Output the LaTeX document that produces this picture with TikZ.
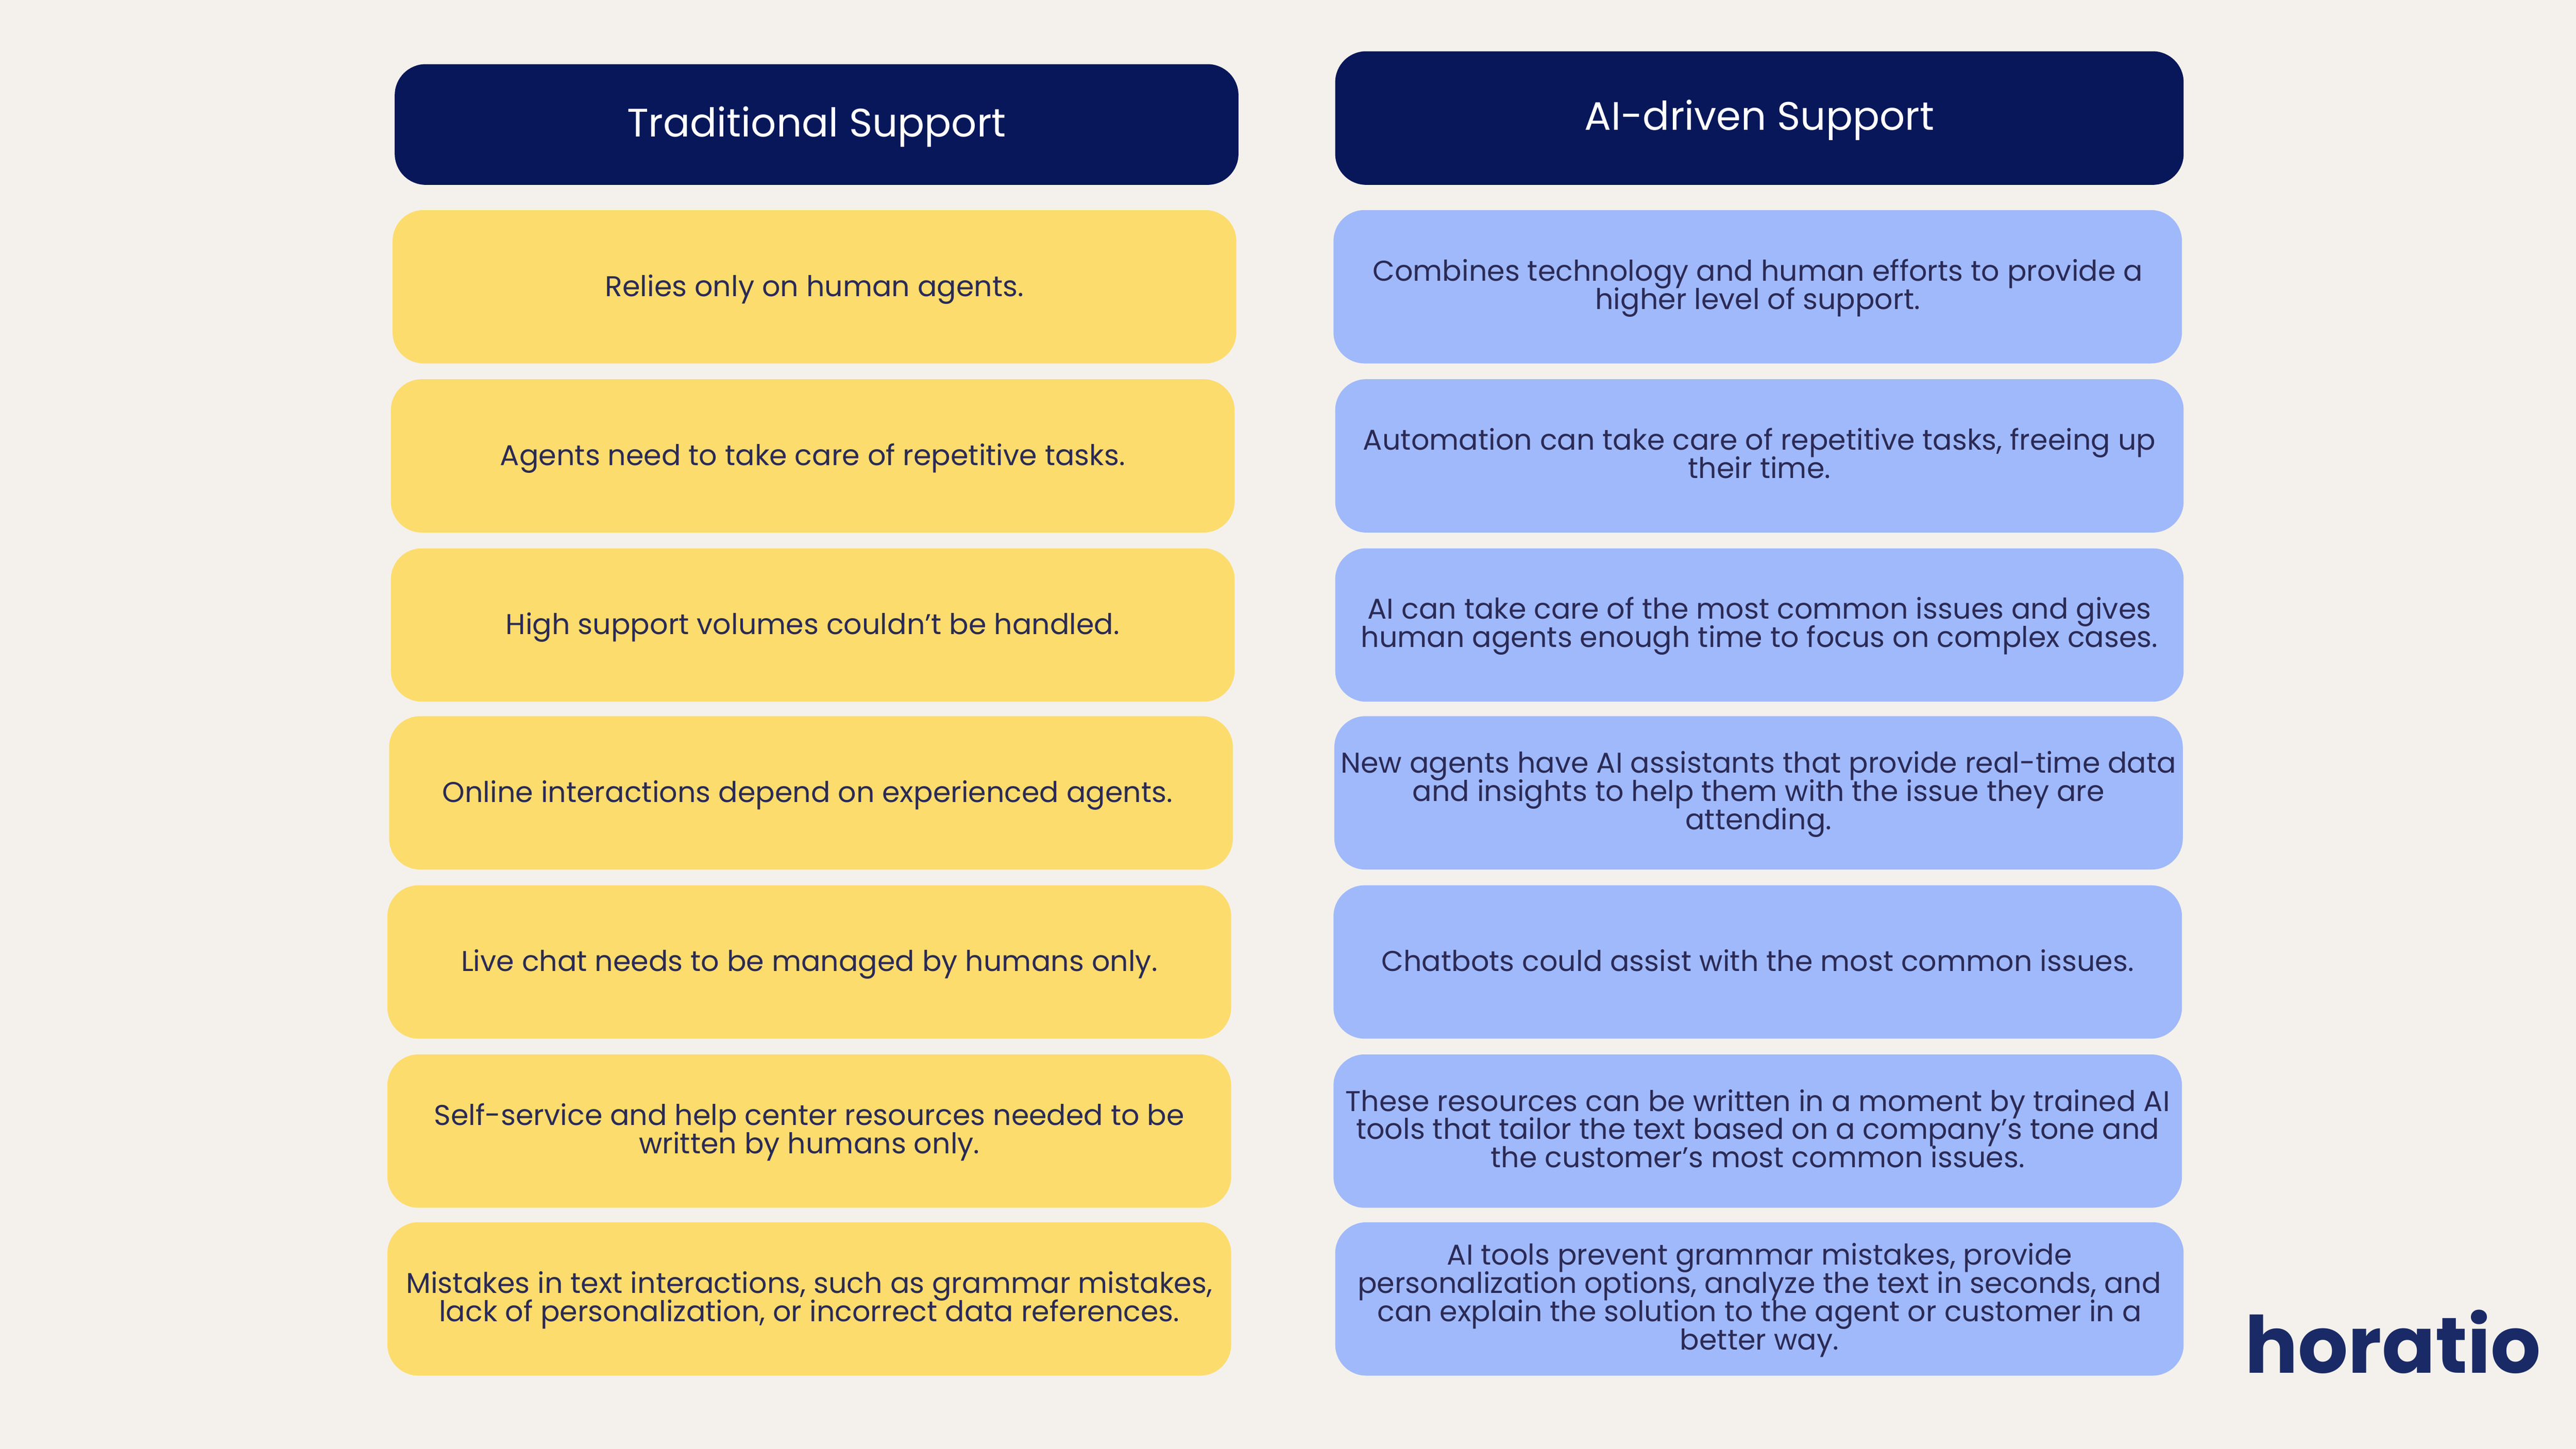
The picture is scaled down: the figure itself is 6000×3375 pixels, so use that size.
\documentclass[tikz,border=0pt]{standalone}
\usepackage{fontspec}
\setmainfont{Poppins}
\usetikzlibrary{positioning}
\definecolor{paper}{HTML}{F4F1EC}
\definecolor{navy}{HTML}{07175A}
\definecolor{sun}{HTML}{FDDC6E}
\definecolor{sky}{HTML}{A0B9FB}
\definecolor{ink}{HTML}{2A2A55}
\definecolor{brand}{HTML}{1A2A66}
\newcommand{\tightlines}{\setlength{\lineskiplimit}{-20pt}}
\tikzset{
    head/.style={fill=navy, text=white, rounded corners=0.72cm, inner sep=0pt, align=center,
        text height=0.85cm, text depth=0.29cm,
        font=\fontsize{26.3}{30}\selectfont},
    cell/.style={rounded corners=0.72cm, inner sep=0pt, align=center, text=ink,
        minimum width=19.64cm, minimum height=3.57cm,
        text height=0.64cm, text depth=0.2cm,
        font={\fontsize{18.95}{18.7}\selectfont\tightlines}},
    old/.style={cell, fill=sun},
    new/.style={cell, fill=sky, minimum width=19.75cm},
    twolines/.style={text height=1.24cm},
    threelines/.style={text height=1.9cm},
    fourlines/.style={text height=2.56cm},
}
\begin{document}
\begin{tikzpicture}[x=0.01cm, y=-0.01cm]
    \useasboundingbox (0,0) rectangle (6000,3375);
    \fill[paper] (0,0) rectangle (6000,3375);

    \node[head, minimum width=19.64cm, minimum height=2.81cm] (oldhead) at (1902,290) {Traditional Support};
    \node[head, minimum width=19.75cm, minimum height=3.11cm] (newhead) at (4098,275) {AI-driven Support};

    \node[old] (old1) at (1897,668) {Relies only on human agents.};
    \node[old] (old2) at (1893,1062) {Agents need to take care of repetitive tasks.};
    \node[old] (old3) at (1893,1456) {High support volumes couldn’t be handled.};
    \node[old] (old4) at (1889,1847) {Online interactions depend on experienced agents.\hspace*{0.16cm}};
    \node[old] (old5) at (1885,2241) {Live chat needs to be managed by humans only.};
    \node[old, twolines] (old6) at (1885,2635) {Self-service and help center resources needed to be\\written by humans only.};
    \node[old, twolines] (old7) at (1885,3026) {Mistakes in text interactions, such as grammar mistakes,\\lack of personalization, or incorrect data references.};

    \node[new, twolines] (new1) at (4094,668) {Combines technology and human efforts to provide a\\higher level of support.};
    \node[new, twolines] (new2) at (4098,1062) {Automation can take care of repetitive tasks, freeing up\\their time.};
    \node[new, twolines] (new3) at (4098,1456) {AI can take care of the most common issues and gives\\human agents enough time to focus on complex cases.};
    \node[new, threelines] (new4) at (4096,1847) {New agents have AI assistants that provide real-time data\\and insights to help them with the issue they are\\attending.};
    \node[new] (new5) at (4094,2241) {Chatbots could assist with the most common issues.};
    \node[new, threelines] (new6) at (4094,2635) {These resources can be written in a moment by trained AI\\tools that tailor the text based on a company’s tone and\\the customer’s most common issues.};
    \node[new, fourlines] (new7) at (4098,3026) {AI tools prevent grammar mistakes, provide\\personalization options, analyze the text in seconds, and\\can explain the solution to the agent or customer in a\\better way.};

    \node[inner sep=0pt, anchor=base west, text=brand, font=\fontsize{52.2}{60}\selectfont\bfseries] (logo) at (5228,3198) {horatio};
\end{tikzpicture}
\end{document}
